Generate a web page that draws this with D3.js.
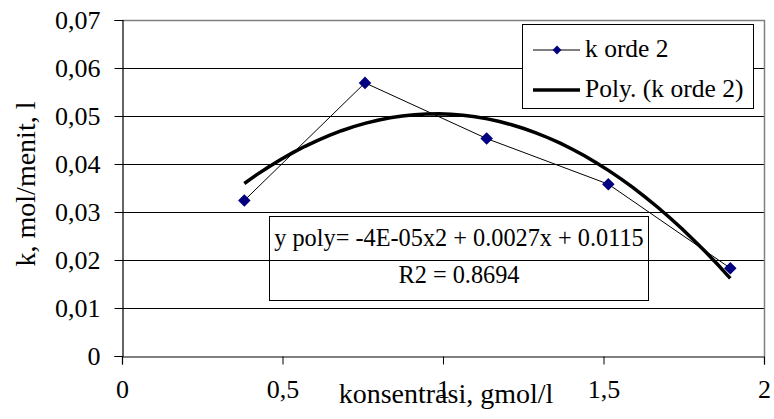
<!DOCTYPE html>
<html>
<head>
<meta charset="utf-8">
<script src="https://cdn.jsdelivr.net/npm/d3@7"></script>
<style>
    body { margin: 0; background: #fff; }
    svg, svg text { font-family: "Times New Roman", "Liberation Serif", "DejaVu Serif", serif !important; fill: #000; }
</style>
</head>
<body>
<svg id="chart" width="774" height="419"></svg>
<script>
/* chart data */
const konsentrasi = [0.381, 0.757, 1.136, 1.515, 1.895];
const kOrde2 = [0.0324, 0.0569, 0.0453, 0.0358, 0.0183];
const xTicks = [0, 0.5, 1, 1.5, 2];
const yTicks = [0, 0.01, 0.02, 0.03, 0.04, 0.05, 0.06, 0.07];
const legendLabels = ["k orde 2", "Poly. (k orde 2)"];
const equationLines = ["y poly= -4E-05x2 + 0.0027x + 0.0115", "R2 = 0.8694"];
const xTitle = "konsentrasi, gmol/l";
const yTitle = "k, mol/menit, l";

const serif = "'Times New Roman', 'Liberation Serif', 'DejaVu Serif', serif";
const svg = d3.select("#chart").attr("font-family", serif);

const plotLeft = 122;
const plotRight = 764;
const plotTop = 20;
const plotBottom = 356;
const navy = "#000080";

var x = d3.scaleLinear().domain([0, 2]).range([plotLeft, plotRight]);
var y = d3.scaleLinear().domain([0, 0.07]).range([plotBottom, plotTop]);

const fmt = d => String(d).replace(".", ",");

/* gridlines */
svg.append("g")
    .selectAll("line")
    .data(yTicks.slice(1, -1))
    .enter()
    .append("line")
    .attr("x1", plotLeft)
    .attr("x2", plotRight)
    .attr("y1", d => Math.round(y(d)) + 0.5)
    .attr("y2", d => Math.round(y(d)) + 0.5)
    .style("stroke", "#000")
    .style("stroke-width", 1);

/* plot area border (top + right) */
svg.append("path")
    .attr("d", "M" + plotLeft + "," + (plotTop + 0.5) + "H" + (plotRight + 0.5) + "V" + plotBottom)
    .style("fill", "none")
    .style("stroke", "#808080")
    .style("stroke-width", 1.5);

/* axes */
var yAxis = d3.axisLeft(y).tickValues(yTicks).tickFormat(fmt).tickSize(8).tickPadding(14);
var gy = svg.append("g")
    .attr("transform", "translate(" + (plotLeft + 0.5) + ",0)")
    .call(yAxis);

var xAxis = d3.axisBottom(x).tickValues(xTicks).tickFormat(fmt).tickSize(8).tickPadding(14);
var gx = svg.append("g")
    .attr("transform", "translate(0," + (plotBottom + 0.5) + ")")
    .call(xAxis);

[gx, gy].forEach(function (g) {
    g.attr("font-family", serif).attr("font-size", 26);
    g.select(".domain").style("stroke", "#000").style("stroke-width", 1.2);
    g.selectAll(".tick line").style("stroke", "#000");
    g.selectAll(".tick text")
        .style("font-family", serif)
        .style("font-size", "26px")
        .style("fill", "#000");
});
gx.selectAll(".tick text").attr("dy", null).attr("y", 41);
gy.selectAll(".tick text").attr("dy", "0.34em");

/* axis titles */
svg.append("text")
    .attr("x", (plotLeft + plotRight) / 2 + 3)
    .attr("y", 403)
    .attr("text-anchor", "middle")
    .style("font-size", "28px")
    .text(xTitle);

svg.append("text")
    .attr("transform", "translate(35," + ((plotTop + plotBottom) / 2 - 4) + ") rotate(-90)")
    .attr("text-anchor", "middle")
    .style("font-size", "28px")
    .text(yTitle);

/* polynomial (order 2) least squares trendline */
function polyFit(xs, ys) {
    let s = [0, 0, 0, 0, 0], t = [0, 0, 0];
    for (let i = 0; i < xs.length; i++) {
        let p = 1;
        for (let k = 0; k < 5; k++) { s[k] += p; if (k < 3) t[k] += p * ys[i]; p *= xs[i]; }
    }
    let m = [[s[0], s[1], s[2], t[0]], [s[1], s[2], s[3], t[1]], [s[2], s[3], s[4], t[2]]];
    for (let i = 0; i < 3; i++) {
        for (let j = i + 1; j < 3; j++) {
            let f = m[j][i] / m[i][i];
            for (let k = i; k < 4; k++) m[j][k] -= f * m[i][k];
        }
    }
    let c = [0, 0, 0];
    for (let i = 2; i >= 0; i--) {
        let v = m[i][3];
        for (let k = i + 1; k < 3; k++) v -= m[i][k] * c[k];
        c[i] = v / m[i][i];
    }
    return c;
}
const coef = polyFit(konsentrasi, kOrde2);
const x0 = d3.min(konsentrasi), x1 = d3.max(konsentrasi);
const trend = d3.range(0, 41).map(i => {
    let xv = x0 + (x1 - x0) * i / 40;
    return [xv, coef[0] + coef[1] * xv + coef[2] * xv * xv];
});

var line = d3.line().x(d => x(d[0])).y(d => y(d[1]));

/* data series line */
svg.append("path")
    .datum(konsentrasi.map((d, i) => [d, kOrde2[i]]))
    .attr("d", line)
    .style("fill", "none")
    .style("stroke", "#000")
    .style("stroke-width", 1);

/* trendline */
svg.append("path")
    .datum(trend)
    .attr("d", line)
    .style("fill", "none")
    .style("stroke", "#000")
    .style("stroke-width", 3.5);

/* markers */
var diamond = d3.symbol().type(d3.symbolDiamond2).size(100);
svg.selectAll(".marker")
    .data(konsentrasi)
    .enter()
    .append("path")
    .attr("class", "marker")
    .attr("d", diamond)
    .attr("transform", (d, i) => "translate(" + x(d) + "," + y(kOrde2[i]) + ")")
    .style("fill", navy);

/* legend */
const legend = svg.append("g");
legend.append("rect")
    .attr("x", 522.5).attr("y", 24.5)
    .attr("width", 231).attr("height", 84)
    .style("fill", "#fff")
    .style("stroke", "#000")
    .style("stroke-width", 1);

const legendY = [50, 90];
legend.append("line")
    .attr("x1", 533).attr("x2", 580).attr("y1", legendY[0]).attr("y2", legendY[0])
    .style("stroke", "#000").style("stroke-width", 1);
legend.append("path")
    .attr("d", d3.symbol().type(d3.symbolDiamond2).size(50))
    .attr("transform", "translate(557," + legendY[0] + ")")
    .style("fill", navy);
legend.append("line")
    .attr("x1", 533).attr("x2", 580).attr("y1", legendY[1]).attr("y2", legendY[1])
    .style("stroke", "#000").style("stroke-width", 3.5);

legend.selectAll(".legendText")
    .data(legendLabels)
    .enter()
    .append("text")
    .attr("class", "legendText")
    .attr("x", 585)
    .attr("y", (d, i) => legendY[i] + 7)
    .style("font-size", "25.5px")
    .text(d => d);

/* equation box */
svg.append("rect")
    .attr("x", 269.5).attr("y", 216.5)
    .attr("width", 379).attr("height", 84)
    .style("fill", "none")
    .style("stroke", "#000")
    .style("stroke-width", 1);

svg.selectAll(".equation")
    .data(equationLines)
    .enter()
    .append("text")
    .attr("class", "equation")
    .attr("x", 459)
    .attr("y", (d, i) => 246 + i * 37)
    .attr("text-anchor", "middle")
    .style("font-size", "24.3px")
    .text(d => d);
</script>
</body>
</html>
